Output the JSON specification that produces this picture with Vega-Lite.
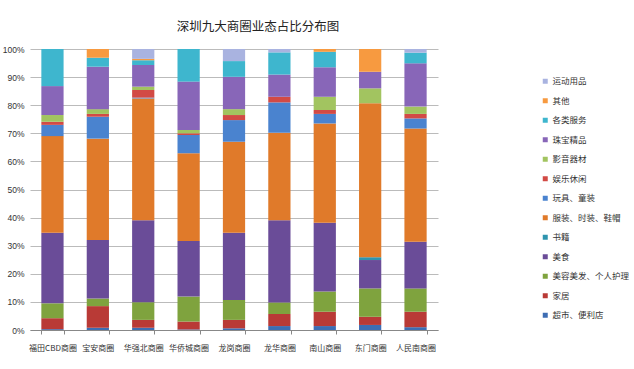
{
  "$schema": "https://vega.github.io/schema/vega-lite/v6.json",
  "autosize": "none",
  "width": 408,
  "height": 281,
  "padding": {"left": 30, "top": 49, "right": 196, "bottom": 39},
  "background": "white",
  "title": {
    "text": "深圳九大商圈业态占比分布图",
    "font": "Noto Sans CJK SC",
    "fontSize": 12.5,
    "fontWeight": "normal",
    "color": "#222222",
    "anchor": "middle",
    "dx": 24,
    "offset": 12
  },
  "datasets": {
    "ord": [
      {"s": "超市、便利店", "k": 0},
      {"s": "家居", "k": 1},
      {"s": "美容美发、个人护理", "k": 2},
      {"s": "美食", "k": 3},
      {"s": "书籍", "k": 4},
      {"s": "服装、时装、鞋帽", "k": 5},
      {"s": "玩具、童装", "k": 6},
      {"s": "娱乐休闲", "k": 7},
      {"s": "影音器材", "k": 8},
      {"s": "珠宝精品", "k": 9},
      {"s": "各类服务", "k": 10},
      {"s": "其他", "k": 11},
      {"s": "运动用品", "k": 12}
    ],
    "shares": [
      {"c": "福田CBD商圈", "超市、便利店": 0.3, "家居": 3.9, "美容美发、个人护理": 5.3, "美食": 25.1, "书籍": 0, "服装、时装、鞋帽": 34.4, "玩具、童装": 4.0, "娱乐休闲": 1.1, "影音器材": 2.4, "珠宝精品": 10.3, "各类服务": 13.2, "其他": 0, "运动用品": 0},
      {"c": "宝安商圈", "超市、便利店": 0.8, "家居": 7.7, "美容美发、个人护理": 2.7, "美食": 20.8, "书籍": 0, "服装、时装、鞋帽": 36.1, "玩具、童装": 7.8, "娱乐休闲": 1.0, "影音器材": 1.7, "珠宝精品": 15.1, "各类服务": 3.2, "其他": 3.1, "运动用品": 0},
      {"c": "华强北商圈", "超市、便利店": 0.8, "家居": 2.8, "美容美发、个人护理": 6.3, "美食": 29.2, "书籍": 0, "服装、时装、鞋帽": 43.3, "玩具、童装": 0.3, "娱乐休闲": 2.7, "影音器材": 1.2, "珠宝精品": 7.7, "各类服务": 1.7, "其他": 0.5, "运动用品": 3.5},
      {"c": "华侨城商圈", "超市、便利店": 0.2, "家居": 2.8, "美容美发、个人护理": 8.9, "美食": 19.8, "书籍": 0, "服装、时装、鞋帽": 31.2, "玩具、童装": 6.5, "娱乐休闲": 0.6, "影音器材": 1.2, "珠宝精品": 17.2, "各类服务": 11.6, "其他": 0, "运动用品": 0},
      {"c": "龙岗商圈", "超市、便利店": 0.6, "家居": 3.0, "美容美发、个人护理": 7.1, "美食": 23.9, "书籍": 0, "服装、时装、鞋帽": 32.4, "玩具、童装": 7.7, "娱乐休闲": 1.8, "影音器材": 2.1, "珠宝精品": 11.5, "各类服务": 5.6, "其他": 0, "运动用品": 4.3},
      {"c": "龙华商圈", "超市、便利店": 1.4, "家居": 4.3, "美容美发、个人护理": 4.1, "美食": 29.3, "书籍": 0, "服装、时装、鞋帽": 31.1, "玩具、童装": 10.8, "娱乐休闲": 2.0, "影音器材": 0, "珠宝精品": 7.9, "各类服务": 7.9, "其他": 0, "运动用品": 1.2},
      {"c": "南山商圈", "超市、便利店": 1.4, "家居": 5.1, "美容美发、个人护理": 7.2, "美食": 24.5, "书籍": 0, "服装、时装、鞋帽": 35.3, "玩具、童装": 3.4, "娱乐休闲": 1.4, "影音器材": 4.7, "珠宝精品": 10.5, "各类服务": 5.5, "其他": 1.0, "运动用品": 0},
      {"c": "东门商圈", "超市、便利店": 1.8, "家居": 2.9, "美容美发、个人护理": 10.1, "美食": 10.1, "书籍": 1.0, "服装、时装、鞋帽": 54.8, "玩具、童装": 0, "娱乐休闲": 0, "影音器材": 5.3, "珠宝精品": 5.9, "各类服务": 0, "其他": 8.1, "运动用品": 0},
      {"c": "人民南商圈", "超市、便利店": 1.0, "家居": 5.5, "美容美发、个人护理": 8.3, "美食": 16.6, "书籍": 0, "服装、时装、鞋帽": 40.3, "玩具、童装": 3.6, "娱乐休闲": 1.6, "影音器材": 2.6, "珠宝精品": 15.4, "各类服务": 3.8, "其他": 0, "运动用品": 1.3}
    ]
  },
  "data": {"name": "shares"},
  "transform": [
    {"fold": ["超市、便利店", "家居", "美容美发、个人护理", "美食", "书籍", "服装、时装、鞋帽", "玩具、童装", "娱乐休闲", "影音器材", "珠宝精品", "各类服务", "其他", "运动用品"], "as": ["s", "v"]},
    {"lookup": "s", "from": {"data": {"name": "ord"}, "key": "s", "fields": ["k"]}}
  ],
  "mark": {"type": "bar"},
  "encoding": {
    "x": {
      "field": "c",
      "type": "nominal",
      "sort": null,
      "scale": {"paddingInner": 0.51, "paddingOuter": 0.25},
      "axis": {
        "title": null,
        "labelAngle": 0,
        "labelFont": "Noto Sans CJK SC",
        "labelFontSize": 8,
        "labelColor": "#333333",
        "labelPadding": 10,
        "domainColor": "#888888",
        "tickColor": "#888888",
        "tickBand": "extent",
        "tickSize": 4,
        "grid": false
      }
    },
    "y": {
      "field": "v",
      "type": "quantitative",
      "stack": "normalize",
      "scale": {"domain": [0, 1]},
      "axis": {
        "title": null,
        "format": ".0%",
        "values": [0, 0.1, 0.2, 0.3, 0.4, 0.5, 0.6, 0.7, 0.8, 0.9, 1],
        "labelFont": "Liberation Sans",
        "labelFontSize": 8.5,
        "labelColor": "#333333",
        "domain": false,
        "ticks": false,
        "labelPadding": 6,
        "gridColor": "#BBBBBB",
        "gridWidth": 1
      }
    },
    "order": {"field": "k", "type": "quantitative"},
    "color": {
      "field": "s",
      "type": "nominal",
      "scale": {
        "domain": ["超市、便利店", "家居", "美容美发、个人护理", "美食", "书籍", "服装、时装、鞋帽", "玩具、童装", "娱乐休闲", "影音器材", "珠宝精品", "各类服务", "其他", "运动用品"],
        "range": ["#3D6DB3", "#B93A36", "#7FA33E", "#6A4C98", "#2E94AE", "#E07A2A", "#4A83CF", "#D24A45", "#A2C460", "#8866B8", "#3EB6CE", "#F79A40", "#A9B3E0"]
      },
      "legend": {
        "title": null,
        "orient": "none",
        "legendX": 511,
        "legendY": 28,
        "values": ["运动用品", "其他", "各类服务", "珠宝精品", "影音器材", "娱乐休闲", "玩具、童装", "服装、时装、鞋帽", "书籍", "美食", "美容美发、个人护理", "家居", "超市、便利店"],
        "symbolType": "square",
        "symbolSize": 25,
        "symbolStrokeWidth": 0,
        "labelFont": "Noto Sans CJK SC",
        "labelFontSize": 8.5,
        "labelColor": "#333333",
        "labelOffset": 3,
        "rowPadding": 10.5,
        "labelLimit": 120
      }
    }
  },
  "config": {
    "view": {"stroke": null}
  }
}
